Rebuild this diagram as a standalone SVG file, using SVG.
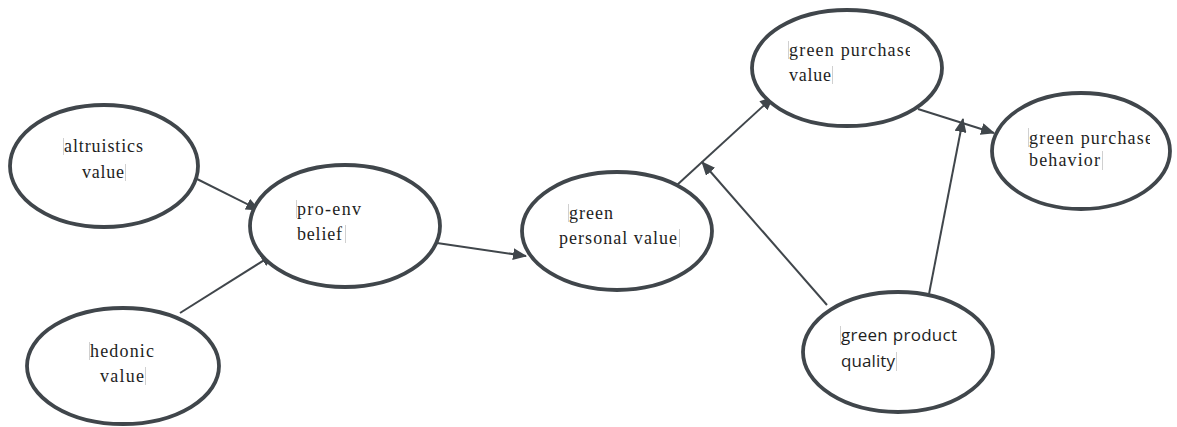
<svg xmlns="http://www.w3.org/2000/svg" width="1177" height="427" viewBox="0 0 1177 427">
  <defs>
    <style>
      .node ellipse { fill: #ffffff; stroke: #40464b; stroke-width: 3.8; }
      .lbl { font-size: 18px; fill: #1e1e1e; }
      .lbls { font-size: 17px; fill: #1e1e1e; }
      .cur { stroke: #d0d0d0; stroke-width: 1; }
      .edge { stroke: #40464b; stroke-width: 2; fill: none; marker-end: url(#arr); }
    </style>
    <marker id="arr" markerUnits="userSpaceOnUse" markerWidth="14" markerHeight="12" refX="13" refY="6" orient="auto">
      <path d="M0,0 L14,6 L0,12 z" fill="#40464b"/>
    </marker>
    <clipPath id="clipGPV"><rect x="750" y="30" width="160" height="70"/></clipPath>
    <clipPath id="clipGPB"><rect x="990" y="120" width="160" height="60"/></clipPath>
  </defs>
  <rect width="1177" height="427" fill="#ffffff"/>

  <g id="connectors">
    <line class="edge" x1="197" y1="179" x2="259" y2="210"/>
    <line class="edge" x1="180" y1="313" x2="274" y2="254"/>
    <line class="edge" x1="437" y1="243" x2="526" y2="256"/>
    <line class="edge" x1="677" y1="185" x2="773" y2="97"/>
    <line class="edge" x1="827" y1="305" x2="702" y2="162"/>
    <line class="edge" x1="918" y1="109" x2="994" y2="133"/>
    <line class="edge" x1="929" y1="294" x2="963" y2="119"/>
  </g>

  <g id="altruistics-value" class="node" font-family="'Liberation Serif', 'Times New Roman', 'DejaVu Serif', serif">
    <ellipse cx="104" cy="166" rx="94" ry="61"/>
    <text class="lbl" x="64" y="152" textLength="79" lengthAdjust="spacing">altruistics</text>
    <text class="lbl" x="82" y="178" textLength="42" lengthAdjust="spacing">value</text>
    <line class="cur" x1="63.5" y1="138" x2="63.5" y2="155"/>
    <line class="cur" x1="125.5" y1="164" x2="125.5" y2="181"/>
  </g>

  <g id="pro-env-belief" class="node" font-family="'Liberation Serif', 'Times New Roman', 'DejaVu Serif', serif">
    <ellipse cx="345" cy="226" rx="95" ry="61"/>
    <text class="lbl" x="297" y="215" textLength="64" lengthAdjust="spacing">pro-env</text>
    <text class="lbl" x="297" y="240" textLength="45" lengthAdjust="spacing">belief</text>
    <line class="cur" x1="296.5" y1="200" x2="296.5" y2="218"/>
    <line class="cur" x1="345.5" y1="225" x2="345.5" y2="243"/>
  </g>

  <g id="hedonic-value" class="node" font-family="'Liberation Serif', 'Times New Roman', 'DejaVu Serif', serif">
    <ellipse cx="123" cy="366" rx="96" ry="58"/>
    <text class="lbl" x="90" y="357" textLength="64" lengthAdjust="spacing">hedonic</text>
    <text class="lbl" x="100" y="382" textLength="44" lengthAdjust="spacing">value</text>
    <line class="cur" x1="89.5" y1="342" x2="89.5" y2="360"/>
    <line class="cur" x1="145.5" y1="367" x2="145.5" y2="385"/>
  </g>

  <g id="green-personal-value" class="node" font-family="'Liberation Serif', 'Times New Roman', 'DejaVu Serif', serif">
    <ellipse cx="617" cy="231" rx="95" ry="59"/>
    <text class="lbl" x="569" y="219" textLength="44" lengthAdjust="spacing">green</text>
    <text class="lbl" x="559" y="244" textLength="118" lengthAdjust="spacing">personal value</text>
    <line class="cur" x1="568.5" y1="204" x2="568.5" y2="222"/>
    <line class="cur" x1="679.5" y1="229" x2="679.5" y2="247"/>
  </g>

  <g id="green-purchase-value" class="node" font-family="'Liberation Serif', 'Times New Roman', 'DejaVu Serif', serif">
    <ellipse cx="847" cy="68" rx="95" ry="58"/>
    <text class="lbl" x="789" y="56" textLength="124" lengthAdjust="spacing" clip-path="url(#clipGPV)">green purchase</text>
    <text class="lbl" x="789" y="81" textLength="42" lengthAdjust="spacing">value</text>
    <line class="cur" x1="788.5" y1="41" x2="788.5" y2="59"/>
    <line class="cur" x1="832.5" y1="66" x2="832.5" y2="84"/>
  </g>

  <g id="green-purchase-behavior" class="node" font-family="'Liberation Serif', 'Times New Roman', 'DejaVu Serif', serif">
    <ellipse cx="1081" cy="151" rx="89" ry="58"/>
    <text class="lbl" x="1029" y="144" textLength="124" lengthAdjust="spacing" clip-path="url(#clipGPB)">green purchase</text>
    <text class="lbl" x="1029" y="166" textLength="71" lengthAdjust="spacing">behavior</text>
    <line class="cur" x1="1028.5" y1="128" x2="1028.5" y2="147"/>
    <line class="cur" x1="1102.5" y1="151" x2="1102.5" y2="170"/>
  </g>

  <g id="green-product-quality" class="node" font-family="'Open Sans', 'Liberation Sans', sans-serif">
    <ellipse cx="898" cy="352" rx="95" ry="60"/>
    <text class="lbls" x="841" y="341" textLength="116" lengthAdjust="spacing">green product</text>
    <text class="lbls" x="841" y="367" textLength="54" lengthAdjust="spacing">quality</text>
    <line class="cur" x1="840.5" y1="326" x2="840.5" y2="345"/>
    <line class="cur" x1="896.5" y1="352" x2="896.5" y2="371"/>
  </g>
</svg>
